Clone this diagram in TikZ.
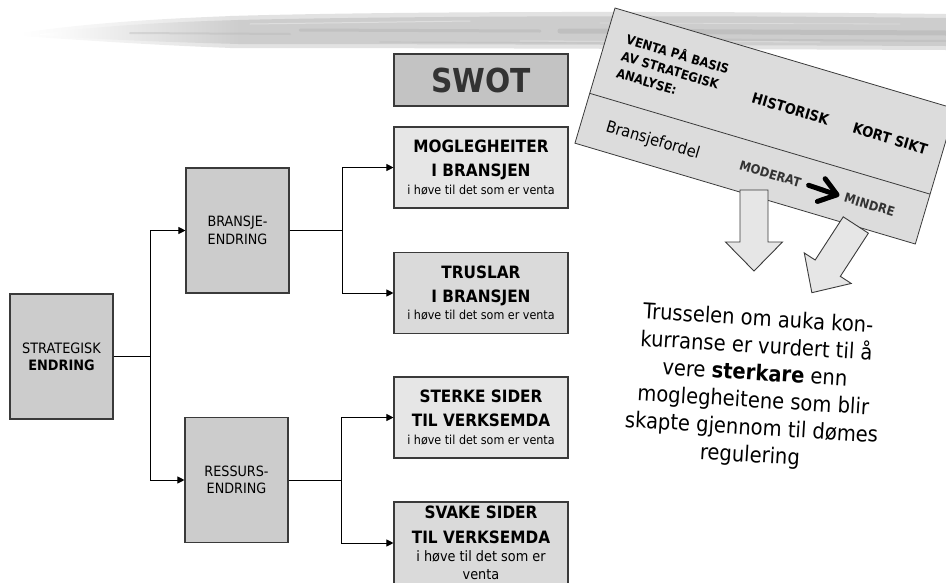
\documentclass[tikz,border=0pt]{standalone}
\usepackage{fontspec}
\setmainfont{DejaVu Sans}[FakeStretch=0.9]
\usetikzlibrary{arrows.meta}

\definecolor{darkbox}{HTML}{CCCCCC}
\definecolor{swotfill}{HTML}{C3C3C3}
\definecolor{lightbox}{HTML}{E6E6E6}
\definecolor{midbox}{HTML}{DADADA}
\definecolor{panelfill}{HTML}{DCDCDC}
\definecolor{edge}{HTML}{3A3A3A}
\definecolor{brush}{HTML}{CDCDCD}
\definecolor{brushsoft}{HTML}{E2E2E2}
\definecolor{brushdark}{HTML}{B4B4B4}
\definecolor{swottext}{HTML}{333333}

\newcommand{\boxhead}[1]{{\fontsize{17}{20}\selectfont\bfseries #1}}

\tikzset{
  box/.style={draw=edge, line width=1.1pt, inner sep=0pt, align=center, text=black},
  graybox/.style={box, fill=darkbox, minimum width=103pt, minimum height=125pt,
    font=\fontsize{14.3}{17}\selectfont},
  swotbox/.style={box, fill=lightbox, minimum width=174pt, minimum height=81pt,
    font=\fontsize{12.4}{17.5}\selectfont},
  conn/.style={draw=black, line width=0.9pt},
  feed/.style={conn, -{Triangle[length=7pt,width=7pt]}},
  blockarrow/.style={draw=edge, line width=0.9pt, fill=lightbox, line join=miter},
  colhead/.style={font=\fontsize{14.5}{17}\selectfont\bfseries, text=black},
  rating/.style={font=\fontsize{12.8}{15}\selectfont\bfseries, text=black!80},
  streak/.style={line width=#1, line cap=round},
}

\begin{document}
\begin{tikzpicture}[x=1pt, y=-1pt]
\clip (0,0) rectangle (946,582);

% brush stroke across the top: soft halo, tapered left end, body and streaks
\shade[left color=white, right color=brushsoft]
  (20,33) .. controls (80,24) and (150,19) .. (232,16) -- (232,48)
  .. controls (150,45) and (80,40) .. (20,36) -- cycle;
\fill[brushsoft] (230,16) .. controls (400,11) and (700,11) .. (946,14)
  -- (946,50) .. controls (700,49) and (400,48) .. (230,48) -- cycle;
\shade[left color=white, right color=brush]
  (40,34) .. controls (90,27) and (160,22) .. (240,20) -- (240,44)
  .. controls (160,42) and (90,39) .. (40,35) -- cycle;
\fill[brush] (238,20) .. controls (400,16) and (700,15) .. (946,18)
  -- (946,46) .. controls (700,45) and (400,44) .. (238,44) -- cycle;
\draw[brushdark, streak=3pt, opacity=.45] (300,30) -- (540,31);
\draw[brushdark, streak=5pt, opacity=.55] (560,31) -- (946,33);
\draw[brushdark, streak=2pt, opacity=.35] (130,33) -- (290,34);
\draw[brushdark, streak=2pt, opacity=.4] (620,39) -- (946,41);
\draw[white, streak=1pt, opacity=.35] (250,24) -- (470,21);
\draw[white, streak=0.8pt, opacity=.35] (520,41) -- (820,42);
\draw[white, streak=0.8pt, opacity=.3] (600,23) -- (900,24);
\draw[brushdark, streak=1.2pt, opacity=.35] (380,42) -- (600,43);

% left column
\node[graybox] (strat) at (61.5,356.5) {STRATEGISK\\\textbf{ENDRING}};
\node[graybox, font=\fontsize{14.2}{17.7}\selectfont] (bransje) at (237.5,230.5) {BRANSJE-\\ENDRING};
\node[graybox, font=\fontsize{14.2}{17}\selectfont] (ressurs) at (236.5,480) {RESSURS-\\ENDRING};

% SWOT column
\node[box, fill=swotfill, minimum width=174pt, minimum height=52pt,
  font=\fontsize{33}{33}\selectfont\bfseries, text=swottext] (swot) at (481,80) {SWOT};
\node[swotbox] (mogl) at (481,167.5)
  {\boxhead{MOGLEGHEITER}\\[6.5pt]\boxhead{I BRANSJEN}\\i høve til det som er venta};
\node[swotbox, fill=midbox] (trus) at (481,293)
  {\boxhead{TRUSLAR}\\[6.5pt]\boxhead{I BRANSJEN}\\i høve til det som er venta};
\node[swotbox] (sterk) at (481,417.5)
  {\boxhead{STERKE SIDER}\\[6.5pt]\boxhead{TIL VERKSEMDA}\\i høve til det som er venta};
\node[swotbox, fill=midbox, minimum height=82pt, font=\fontsize{14.3}{18}\selectfont] (svak) at (481,543)
  {\boxhead{SVAKE SIDER}\\[7pt]\boxhead{TIL VERKSEMDA}\\i høve til det som er\\venta};

% connectors
\draw[feed] (strat.east) -- ++(37,0) |- (bransje.west);
\draw[feed] (strat.east) -- ++(37,0) |- (ressurs.west);
\draw[feed] (bransje.east) -- ++(53,0) |- (mogl.west);
\draw[feed] (bransje.east) -- ++(53,0) |- (trus.west);
\draw[feed] (ressurs.east) -- ++(53,0) |- (sterk.west);
\draw[feed] (ressurs.east) -- ++(53,0) |- (svak.west);

% tilted expectation table
\begin{scope}[shift={(615,8)}, rotate=-16.5, transform shape]
  \draw[draw=edge, line width=0.8pt, fill=panelfill] (0,0) rectangle (355,141);
  \draw[edge, line width=0.8pt] (0,89) -- (355,89);
  \node[anchor=west, align=left, inner sep=0pt,
    font=\fontsize{12.8}{17.5}\selectfont\bfseries, text=black] (hdr) at (20,43)
    {VENTA PÅ BASIS\\AV STRATEGISK\\ANALYSE:};
  \node[colhead, anchor=base] (hist) at (197,52.3) {HISTORISK};
  \node[colhead, anchor=base] (kort) at (301,52.3) {KORT SIKT};
  \node[anchor=base, font=\fontsize{16.2}{18}\selectfont, text=black] (fordel) at (74,121) {Bransjefordel};
  \node[rating, anchor=base] (moderat) at (196,119.7) {MODERAT};
  \node[rating, anchor=base] (mindre) at (300,121) {MINDRE};
  \draw[black, line width=5pt, line cap=round, line join=round] (236,115) -- (263,116);
  \draw[black, line width=5pt, line cap=round, line join=round] (250,104) -- (266,116) -- (249,128);
\end{scope}

% block arrows pointing down to the conclusion
\draw[blockarrow] (740,190) -- (768,190) -- (768,242) -- (782.5,242) -- (754,271)
  -- (725.5,242) -- (740,242) -- cycle;
\begin{scope}[shift={(855.8,225)}, rotate=-33]
  \draw[blockarrow] (-15,0) -- (15,0) -- (15,51.5) -- (28,51.5) -- (0,80.7)
    -- (-28,51.5) -- (-15,51.5) -- cycle;
\end{scope}

% conclusion text
\node[rotate=-3.5, align=center, font=\fontsize{21.7}{27.3}\selectfont] (note) at (754,388)
  {Trusselen om auka kon-\\kurranse er vurdert til å\\vere \textbf{sterkare} enn\\moglegheitene som blir\\skapte gjennom til dømes\\regulering};
\end{tikzpicture}
\end{document}
